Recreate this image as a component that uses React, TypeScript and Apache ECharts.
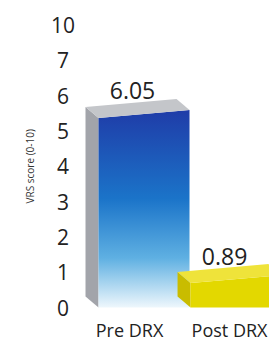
import React, { useEffect, useRef } from "react";
import * as echarts from "echarts";

const categories = ["Pre DRX", "Post DRX"];
const scores = [6.05, 0.89];
const yTickLabels = ["0", "1", "2", "3", "4", "5", "6", "7", "10"];
const axisName = "VRS score (0-10)";

const frontColors = [
  new echarts.graphic.LinearGradient(0, 0, 0, 1, [
    { offset: 0, color: "#1f3ca8" },
    { offset: 0.45, color: "#1b74c9" },
    { offset: 0.75, color: "#5fb0e2" },
    { offset: 1, color: "#eef7fc" },
  ]),
  "#e3d800",
];
const sideColors = ["#a2a4aa", "#c9bc00"];
const topColors = ["#c4c6ca", "#efe33a"];

export default function App() {
  const ref = useRef<HTMLDivElement>(null);
  useEffect(() => {
    if (!ref.current) return;
    const chart = echarts.init(ref.current, null, { renderer: "svg" });
    const font = "Open Sans";
    chart.setOption({
      animation: false,
      backgroundColor: "#ffffff",
      grid: { left: 83.5, right: -4.5, top: 25, bottom: 32.5 },
      xAxis: {
        type: "category",
        data: categories,
        axisLine: { show: false },
        axisTick: { show: false },
        axisLabel: {
          fontSize: 18,
          color: "#222",
          fontFamily: font,
          fontWeight: 500,
          margin: 13,
          interval: 0,
          hideOverlap: false,
          showMaxLabel: true,
          showMinLabel: true,
          formatter: (v: string, idx: number) => (idx === 0 ? `{a|${v}}` : `{b|${v}}`),
          rich: {
            a: { fontSize: 18, color: "#222", fontFamily: font, fontWeight: 500 },
            b: { fontSize: 18, color: "#222", fontFamily: font, fontWeight: 500, padding: [0, 0, 0, 16] },
          },
        },
      },
      yAxis: [
        {
          type: "value",
          min: 0,
          max: 8,
          interval: 1,
          splitLine: { show: false },
          axisLine: { show: false },
          axisTick: { show: false },
          axisLabel: {
            fontSize: 21,
            color: "#222",
            fontFamily: font,
            fontWeight: 500,
            align: "center",
            margin: 20.5,
            formatter: (v: number) => yTickLabels[Math.round(v)] ?? "",
          },
          name: axisName,
          nameLocation: "middle",
          nameGap: 49,
          nameTextStyle: { fontSize: 10, color: "#333", fontFamily: font },
        },
        { type: "value", min: 0, max: 8.83, show: false },
      ],
      series: [
        {
          type: "custom",
          yAxisIndex: 1,
          data: scores.map((v, i) => [i, v]),
          renderItem: (params: any, api: any) => {
            const i = api.value(0);
            const v = api.value(1);
            const top = api.coord([i, v]);
            const base = api.coord([i, 0]);
            const xL = top[0] - 31;
            const xR = xL + 91;
            const s = 8;
            const yTL = top[1] + s / 2;
            const yTR = top[1] - s / 2;
            const yB = base[1];
            const dx = -13;
            const dy = -11;
            return {
              type: "group",
              children: [
                {
                  type: "polygon",
                  shape: { points: [[xL + dx, yTL + dy], [xL, yTL], [xL, yB], [xL + dx, yB + dy]] },
                  style: { fill: sideColors[i] },
                },
                {
                  type: "polygon",
                  shape: { points: [[xL, yTL], [xR, yTR], [xR, yB], [xL, yB]] },
                  style: { fill: frontColors[i] },
                },
                {
                  type: "polygon",
                  shape: {
                    points: [[xL + dx, yTL + dy], [xR + dx, yTR + dy], [xR, yTR], [xL, yTL]],
                  },
                  style: { fill: topColors[i] },
                },
                {
                  type: "text",
                  style: {
                    text: String(v.toFixed(2)),
                    x: (xL + xR) / 2 + dx / 2 - 5,
                    y: top[1] + dy / 2 - 18,
                    align: "center",
                    verticalAlign: "middle",
                    fontSize: 23,
                    fontWeight: 500,
                    fontFamily: font,
                    fill: "#222",
                  },
                },
              ],
            };
          },
        },
      ],
    });
    return () => chart.dispose();
  }, []);
  return (
    <div
      ref={ref}
      style={{ position: "fixed", left: 0, top: 0, width: 269, height: 340 }}
    />
  );
}
